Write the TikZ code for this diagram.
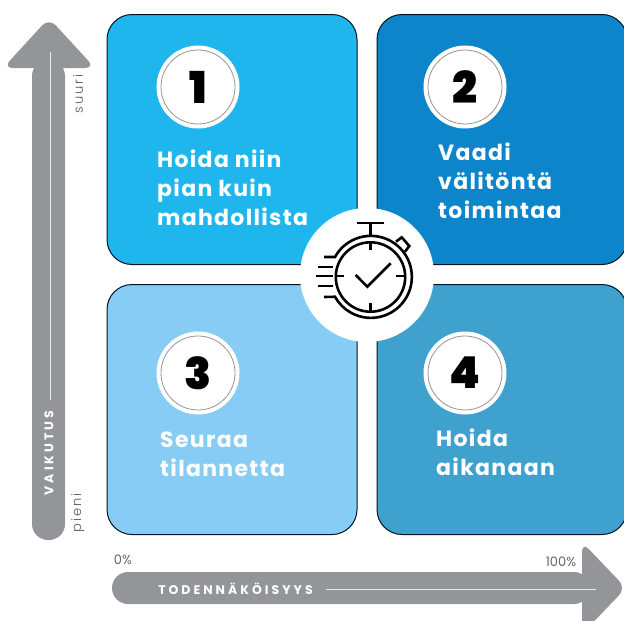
\documentclass[tikz,border=0pt]{standalone}
\usepackage{fontspec}
\setmainfont{Poppins}
\newfontfamily\wideface[LetterSpace=6]{Poppins}
\newfontfamily\axisface[LetterSpace=24]{Poppins}
\newfontfamily\thinface[LetterSpace=16]{Poppins Light}
\newfontfamily\heavyface{Poppins Black}
\definecolor{KoneBlue}{HTML}{1FB6EE}
\definecolor{KoneDeep}{HTML}{0C85CB}
\definecolor{KoneSky}{HTML}{86CCF4}
\definecolor{KoneSea}{HTML}{3FA1CE}
\definecolor{AxisGrey}{HTML}{939598}
\tikzset{
    quadrant/.style = {draw=black!85!KoneDeep, line width=1pt, rectangle, rounded corners=25pt,
        minimum width=250pt,
        minimum height=250pt},
    badge/.style = {draw=white, fill=white, circle, line width=5pt, minimum size=78pt, inner sep=0pt},
    numeral/.style = {font=\heavyface\fontsize{44}{44}\selectfont, text=black, inner sep=0pt},
    caption/.style = {font=\wideface\bfseries\fontsize{22}{29}\selectfont, text=white, align=left, anchor=north west, inner sep=0pt},
    axistext/.style = {font=\axisface\bfseries\fontsize{12.5}{13}\selectfont, text=white, inner sep=0pt},
    endtext/.style = {font=\thinface\fontsize{13}{14}\selectfont, text=black!65, inner sep=0pt},
    percent/.style = {font=\fontsize{13}{14}\selectfont, text=black!60, inner sep=0pt},
    axisline/.style = {draw=white!80!AxisGrey, line width=1pt},
    watch/.style = {draw=black, line width=2.6pt}
}
\begin{document}
\begin{tikzpicture}[x=1pt,y=-1pt]
                \useasboundingbox (0,0) rectangle (624,621);
                \node[quadrant,fill=KoneBlue] (box1) at (232,139.5) {};
                \node[quadrant,fill=KoneDeep] (box2) at (502,139.5) {};
                \node[quadrant,fill=KoneSky] (box3) at (232,409.5) {};
                \node[quadrant,fill=KoneSea] (box4) at (502,409.5) {};
                \node[circle,fill=white,minimum size=134pt,inner sep=0pt] (hub) at (367,275) {};
                \node[badge] (badge1) at (198,87) {};
                \node[badge] (badge2) at (465,87) {};
                \node[badge] (badge3) at (198,373) {};
                \node[badge] (badge4) at (465,373) {};
                \draw[color=AxisGrey,line width=.8pt] (badge1) circle (37);
                \draw[color=AxisGrey,line width=.8pt] (badge2) circle (37);
                \draw[color=AxisGrey,line width=.8pt] (badge3) circle (37);
                \draw[color=AxisGrey,line width=.8pt] (badge4) circle (37);
                \node[numeral] (num1) at (198,87) {1};
                \node[numeral] (num2) at (465,87) {2};
                \node[numeral] (num3) at (198,373) {3};
                \node[numeral] (num4) at (465,373) {4};
                \node[caption] (text1) at (157,150) {Hoida niin\\pian kuin\\mahdollista};
                \node[caption] (text2) at (438,143) {Vaadi\\välitöntä\\toimintaa};
                \node[caption] (text3) at (160,432) {Seuraa\\tilannetta};
                \node[caption] (text4) at (436,429) {Hoida\\aikanaan};
                \fill[color=AxisGrey,rounded corners=10pt] (49,18) -- (3,68) -- (95,68) -- cycle;
                \fill[color=AxisGrey,rounded corners=16pt] (32,60) -- (32,540) -- (65,540) -- (65,60) -- cycle;
                \fill[color=AxisGrey,rounded corners=16pt] (590,572) -- (112,572) -- (112,604) -- (590,604) -- cycle;
                \fill[color=AxisGrey,rounded corners=10pt] (582,542) -- (626,588) -- (582,634) -- cycle;
                \coordinate (vtop) at (50,52);
                \coordinate (vend) at (50,400);
                \coordinate (hstart) at (326,589);
                \coordinate (hend) at (596,589);
                \draw[axisline] (vtop) -- (vend);
                \draw[axisline] (hstart) -- (hend);
                \node[axistext,rotate=90] (vaikutus) at (49,453) {VAIKUTUS};
                \node[axistext] (todnak) at (235.5,589) {TODENNÄKÖISYYS};
                \node[endtext,rotate=90] (suuri) at (78,94) {suuri};
                \node[endtext,rotate=90] (pieni) at (78,513) {pieni};
                \node[percent] (zero) at (123,560) {0\%};
                \node[percent] (hundred) at (561,562) {100\%};
                \draw[watch] (370.5,277) circle (34.7);
                \draw[watch] (324,257) -- (335,257) arc (209:511:41) -- (324,297);
                \draw[watch] (318,267) -- (333,267);
                \draw[watch] (316,276) -- (333,276);
                \draw[watch] (318,286) -- (333,286);
                \draw[watch] (357,223) -- (384,223);
                \draw[watch] (370.5,223) -- (370.5,236);
                \draw[watch] (370.5,243) -- (370.5,250);
                \draw[watch] (370.5,303) -- (370.5,312);
                \draw[watch] (337,276) -- (344,276);
                \draw[watch] (396,276) -- (405,276);
                \draw[watch] (396,241.7) -- (401.7,237.3) -- (409.3,246) -- (405,251.7);
                \draw[watch] (355.7,275) -- (367.3,286.7) -- (390.7,263.3);
            \end{tikzpicture}
\end{document}
